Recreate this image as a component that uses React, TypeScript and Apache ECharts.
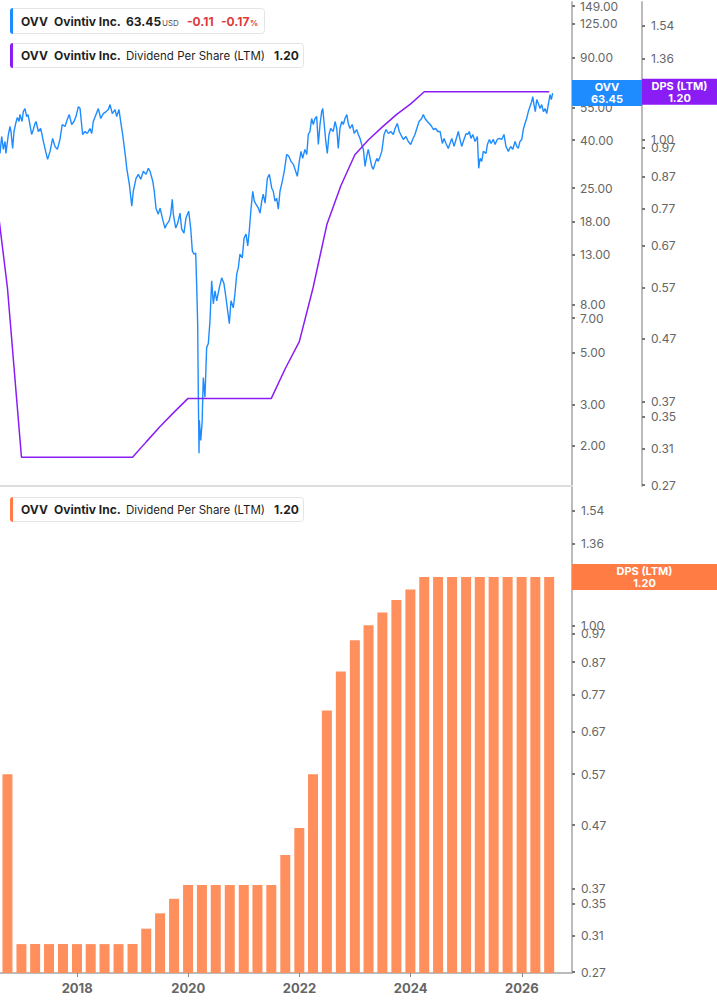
import React, { useEffect, useRef } from 'react';
import * as echarts from 'echarts';

// 股价（收盘价，按图读取）
const priceDates = [
  '2016-08-12', '2016-08-23', '2016-09-03', '2016-09-14', '2016-09-20', '2016-10-06', '2016-10-17', '2016-10-23',
  '2016-11-03', '2016-11-12', '2016-11-23', '2016-12-04', '2016-12-15', '2016-12-21',
  '2017-01-04', '2017-01-12', '2017-01-23', '2017-02-03', '2017-02-12', '2017-02-21', '2017-03-08', '2017-03-19',
  '2017-03-30', '2017-04-06', '2017-04-21', '2017-05-06', '2017-05-15', '2017-05-24', '2017-06-08', '2017-06-21',
  '2017-07-07', '2017-07-24', '2017-08-08', '2017-08-24', '2017-09-10', '2017-09-25', '2017-10-13', '2017-10-28',
  '2017-11-10', '2017-11-26', '2017-12-11', '2017-12-24',
  '2018-01-09', '2018-01-20', '2018-02-06', '2018-02-22', '2018-03-09', '2018-03-26', '2018-04-07', '2018-04-17',
  '2018-05-05', '2018-05-20', '2018-06-05', '2018-06-22', '2018-07-10', '2018-07-25', '2018-08-05', '2018-08-20',
  '2018-09-07', '2018-09-18', '2018-10-03', '2018-10-14', '2018-10-27', '2018-11-12', '2018-11-23', '2018-12-10',
  '2018-12-26',
  '2019-01-05', '2019-01-23', '2019-02-07', '2019-02-23', '2019-03-12', '2019-03-30', '2019-04-14', '2019-04-25',
  '2019-05-13', '2019-05-23', '2019-06-03', '2019-06-18', '2019-06-30', '2019-07-15', '2019-08-01', '2019-08-13',
  '2019-08-28', '2019-09-08', '2019-09-18', '2019-09-25', '2019-10-11', '2019-10-24', '2019-11-08', '2019-11-19',
  '2019-12-04', '2019-12-17',
  '2020-01-04', '2020-01-17', '2020-01-28', '2020-02-08', '2020-02-19', '2020-02-26', '2020-03-03', '2020-03-07',
  '2020-03-12', '2020-03-14', '2020-03-23', '2020-04-01', '2020-04-09', '2020-04-20', '2020-05-01', '2020-05-12',
  '2020-05-23', '2020-06-03', '2020-06-14', '2020-06-25', '2020-07-06', '2020-07-23', '2020-08-08', '2020-08-23',
  '2020-09-05', '2020-09-16', '2020-09-27', '2020-10-08', '2020-10-23', '2020-11-03', '2020-11-15', '2020-11-25',
  '2020-12-06', '2020-12-21',
  '2021-01-02', '2021-01-15', '2021-01-26', '2021-02-05', '2021-02-17', '2021-02-28', '2021-03-10', '2021-03-21',
  '2021-04-06', '2021-04-17', '2021-04-28', '2021-05-08', '2021-05-20', '2021-06-04', '2021-06-17', '2021-07-03',
  '2021-07-13', '2021-07-24', '2021-08-04', '2021-08-15', '2021-08-26', '2021-09-10', '2021-09-23', '2021-10-09',
  '2021-10-24', '2021-11-06', '2021-11-22', '2021-12-07', '2021-12-18', '2021-12-31',
  '2022-01-11', '2022-01-22', '2022-02-06', '2022-02-18', '2022-02-28', '2022-03-11', '2022-03-22', '2022-04-02',
  '2022-04-13', '2022-04-24', '2022-05-05', '2022-05-16', '2022-05-27', '2022-06-03', '2022-06-11', '2022-06-23',
  '2022-07-03', '2022-07-14', '2022-07-25', '2022-08-11', '2022-08-23', '2022-09-03', '2022-09-13', '2022-09-24',
  '2022-10-06', '2022-10-16', '2022-10-27', '2022-11-08', '2022-11-18', '2022-11-29', '2022-12-14', '2022-12-27',
  '2023-01-12', '2023-01-23', '2023-02-03', '2023-02-14', '2023-02-25', '2023-03-08', '2023-03-19', '2023-03-29',
  '2023-04-10', '2023-04-21', '2023-05-01', '2023-05-13', '2023-05-24', '2023-06-03', '2023-06-15', '2023-06-26',
  '2023-07-11', '2023-07-24', '2023-08-08', '2023-08-24', '2023-09-10', '2023-09-21', '2023-10-06', '2023-10-19',
  '2023-11-04', '2023-11-15', '2023-12-02', '2023-12-17',
  '2024-01-02', '2024-01-15', '2024-01-30', '2024-02-11', '2024-02-26', '2024-03-14', '2024-03-25', '2024-04-05',
  '2024-04-20', '2024-05-03', '2024-05-19', '2024-05-30', '2024-06-14', '2024-06-28', '2024-07-13', '2024-07-28',
  '2024-08-08', '2024-08-21', '2024-09-05', '2024-09-16', '2024-09-28', '2024-10-13', '2024-10-26', '2024-11-10',
  '2024-11-21', '2024-12-02', '2024-12-17', '2024-12-31',
  '2025-01-11', '2025-01-21', '2025-02-01', '2025-02-13', '2025-02-28', '2025-03-15', '2025-03-24', '2025-04-02',
  '2025-04-13', '2025-04-23', '2025-05-11', '2025-05-20', '2025-06-02', '2025-06-13', '2025-06-28', '2025-07-09',
  '2025-07-24', '2025-08-06', '2025-08-22', '2025-09-06', '2025-09-19', '2025-10-05', '2025-10-20', '2025-11-02',
  '2025-11-18', '2025-11-29', '2025-12-09', '2025-12-20',
  '2026-01-01', '2026-01-11', '2026-01-22', '2026-02-02', '2026-02-13', '2026-02-24', '2026-03-07', '2026-03-14',
  '2026-03-22', '2026-03-31', '2026-04-09', '2026-04-20', '2026-05-01', '2026-05-12', '2026-05-23', '2026-06-03',
  '2026-06-14', '2026-06-24', '2026-07-06', '2026-07-14', '2026-07-23',
];
const priceValues = [
  35.15, 41.49, 36.54, 39.51, 35.15, 42.31, 45.74, 43.56, 36.9, 43.56, 47.1, 49.94, 48.03, 51.43,
  48.03, 52.95, 54.53, 50.43, 51.43, 48.03, 42.31, 44.42, 47.1, 48.03, 43.56, 44.86, 42.31, 39.51, 35.84, 33.15,
  35.84, 40.69, 37.63, 36.54, 40.29, 46.64, 45.74, 48.98, 51.43, 46.64, 48.03, 50.43,
  55.6, 54.53, 42.31, 43.56, 42.72, 44.86, 42.72, 48.03, 51.43, 54.53, 49.46, 51.93, 52.95, 53.99, 56.7, 51.93,
  53.99, 50.43, 53.99, 48.03, 42.31, 35.15, 30.36, 25.97, 20.95,
  24.25, 27.54, 28.63, 27.27, 29.48, 28.63, 30.36, 29.48, 26.74, 24.25, 20.55, 19.38, 20.55, 18.64, 16.9, 17.58,
  18.1, 19.38, 22.43, 19.38, 16.9, 17.75, 19.57, 16.74, 16.1, 18.64,
  19.95, 16.9, 13.5, 13.11, 13.24, 9.41, 6.62, 3.44, 1.86, 2.57, 2.11, 2.5, 3.91, 3.22, 5.24, 5.45,
  6.82, 10.08, 8.05, 9.14, 8.29, 9.41, 10.38, 9.79, 8.54, 7.52, 6.62, 8.29, 7.74, 8.88, 10.79, 11.44,
  13.11, 12.61,
  15.33, 15.95, 14.18, 16.42, 20.55, 24.25, 22.0, 21.36, 20.55, 19.57, 22.0, 23.55, 21.57, 27.54, 28.63, 24.97,
  24.25, 22.0, 22.65, 20.35, 24.25, 26.74, 29.48, 34.8, 34.13, 32.51, 31.57, 29.48, 28.08, 32.51,
  35.84, 33.47, 36.54, 34.8, 42.31, 43.56, 49.46, 46.64, 49.46, 50.43, 38.37, 46.64, 52.95, 54.53, 48.03, 39.51,
  35.15, 42.31, 44.86, 43.56, 48.03, 44.86, 36.9, 44.86, 48.03, 46.64, 49.46, 51.43, 47.1, 44.86, 46.64, 42.72,
  44.42, 42.31, 40.69, 38.37, 36.54, 30.96, 34.13, 36.54, 33.47, 30.96, 30.07, 31.88, 33.47, 32.51, 34.13, 35.84,
  42.31, 44.42, 42.72, 43.56, 42.31, 44.86, 47.1, 43.56, 41.49, 40.29, 41.49, 39.51,
  38.37, 40.29, 42.31, 44.86, 48.03, 49.46, 51.43, 49.46, 48.03, 47.1, 45.74, 44.42, 44.86, 43.56, 43.56, 38.75,
  40.69, 38.75, 36.9, 38.75, 40.69, 37.63, 40.29, 43.56, 40.29, 37.63, 40.29, 42.72,
  42.31, 43.56, 40.69, 42.31, 39.51, 41.49, 30.36, 33.47, 32.51, 35.84, 35.15, 38.37, 40.29, 38.75, 40.29, 38.37,
  40.29, 40.69, 40.29, 42.31, 37.63, 35.84, 37.63, 36.54, 39.51, 37.63, 36.9, 39.51,
  40.29, 44.42, 47.1, 49.46, 52.95, 55.6, 58.38, 61.3, 56.7, 52.95, 59.53, 57.26, 54.53, 56.7, 52.95, 54.53,
  51.93, 56.7, 62.51, 59.53, 63.45,
];

// 每股股息 LTM（季度）
const dpsDates = [
  '2016-06-30', '2016-09-30', '2016-12-31', '2017-03-31', '2017-06-30', '2017-09-30', '2017-12-31',
  '2018-03-31', '2018-06-30', '2018-09-30', '2018-12-31', '2019-03-31', '2019-06-30', '2019-09-30',
  '2019-12-31', '2020-03-31', '2020-06-30', '2020-09-30', '2020-12-31', '2021-03-31', '2021-06-30',
  '2021-09-30', '2021-12-31', '2022-03-31', '2022-06-30', '2022-09-30', '2022-12-31', '2023-03-31',
  '2023-06-30', '2023-09-30', '2023-12-31', '2024-03-31', '2024-06-30', '2024-09-30', '2024-12-31',
  '2025-03-31', '2025-06-30', '2025-09-30', '2025-12-31', '2026-03-31', '2026-06-30',
];
const dpsValues = [
  0.88, 0.57, 0.3, 0.3, 0.3, 0.3, 0.3,
  0.3, 0.3, 0.3, 0.3, 0.318, 0.337, 0.356,
  0.375, 0.375, 0.375, 0.375, 0.375, 0.375, 0.375,
  0.42, 0.465, 0.57, 0.725, 0.84, 0.945, 1.0,
  1.05, 1.1, 1.145, 1.2, 1.2, 1.2, 1.2,
  1.2, 1.2, 1.2, 1.2, 1.2, 1.2,
];

// 刻度
const priceTicks = [2, 3, 5, 7, 8, 13, 18, 25, 40, 55, 90, 125, 149];
const dpsTicks = [0.27, 0.31, 0.35, 0.37, 0.47, 0.57, 0.67, 0.77, 0.87, 0.97, 1.0, 1.18, 1.36, 1.54];
const yearTicks = ['2018-01-01', '2020-01-01', '2022-01-01', '2024-01-01', '2026-01-01'];

const lastPrice = 63.45;
const lastDps = 1.2;

// 对数坐标范围
const PRICE_MIN = 1.35;
const PRICE_MAX = 154.9;
const DPS_MIN = 0.269;
const DPS_MAX = 1.686;
const X_MIN = '2016-08-12';
const X_MAX = '2026-11-27';

const FONT = 'Inter, "Noto Sans", sans-serif';

const ts = (s: string) => {
  const [y, m, d] = s.split('-').map(Number);
  return new Date(y, m - 1, d).getTime();
};
const lnP = (v: number) => Math.log(v / PRICE_MIN);
const lnD = (v: number) => Math.log(v / DPS_MIN);

const App: React.FC = () => {
  const chartRef = useRef<HTMLDivElement>(null);

  useEffect(() => {
    document.body.style.margin = '0';
    if (!chartRef.current) return;
    const chart = echarts.init(chartRef.current, undefined, { renderer: 'svg' });

    const axisLabelBase = { color: '#666', fontSize: 12, fontFamily: FONT, margin: 8 };
    const tickBase = { show: true, length: 3, lineStyle: { color: '#777', width: 2 } };
    const lineBase = { show: true, lineStyle: { color: '#bbbbbb', width: 2 } };

    const dpsAxis = (gridIndex: number, offset: number) => ({
      type: 'value',
      gridIndex,
      position: 'right',
      offset,
      min: 0,
      max: lnD(DPS_MAX),
      axisLine: lineBase,
      axisTick: { ...tickBase, customValues: dpsTicks.map(lnD) },
      axisLabel: {
        ...axisLabelBase,
        margin: 9,
        customValues: dpsTicks.map(lnD),
        formatter: (v: number) => (DPS_MIN * Math.exp(v)).toFixed(2),
      },
      splitLine: { show: false },
    });

    const dpsData = dpsDates.map((d, i) => [ts(d), lnD(dpsValues[i])]);

    chart.setOption({
      animation: false,
      grid: [
        { left: 0, right: 145, top: 0, height: 486 },
        { left: 0, right: 145, top: 487, height: 486 },
      ],
      xAxis: [
        {
          type: 'value',
          gridIndex: 0,
          min: ts(X_MIN),
          max: ts(X_MAX),
          axisLine: { show: true, lineStyle: { color: '#dddddd', width: 2 } },
          axisTick: { show: false },
          axisLabel: { show: false },
          splitLine: { show: false },
        },
        {
          type: 'value',
          gridIndex: 1,
          min: ts(X_MIN),
          max: ts(X_MAX),
          axisLine: lineBase,
          axisTick: { show: true, length: 4, customValues: yearTicks.map(ts), lineStyle: { color: '#888', width: 1 } },
          axisLabel: {
            customValues: yearTicks.map(ts),
            formatter: (v: number) => String(new Date(v).getFullYear()),
            color: '#666',
            fontSize: 13,
            fontWeight: 'bold',
            fontFamily: FONT,
            margin: 8,
          },
          splitLine: { show: false },
        },
      ],
      yAxis: [
        {
          type: 'value',
          gridIndex: 0,
          position: 'right',
          min: 0,
          max: lnP(PRICE_MAX),
          axisLine: lineBase,
          axisTick: { ...tickBase, customValues: priceTicks.map(lnP) },
          axisLabel: {
            ...axisLabelBase,
            customValues: priceTicks.map(lnP),
            formatter: (v: number) => (PRICE_MIN * Math.exp(v)).toFixed(2),
          },
          splitLine: { show: false },
        },
        dpsAxis(0, 70),
        dpsAxis(1, 0),
      ],
      series: [
        {
          name: 'OVV',
          type: 'line',
          xAxisIndex: 0,
          yAxisIndex: 0,
          data: priceDates.map((d, i) => [ts(d), lnP(priceValues[i])]),
          showSymbol: false,
          lineStyle: { color: '#1e8cff', width: 1.4 },
          itemStyle: { color: '#1e8cff' },
        },
        {
          name: 'DPS line',
          type: 'line',
          xAxisIndex: 0,
          yAxisIndex: 1,
          data: dpsData,
          showSymbol: false,
          lineStyle: { color: '#8a1cf6', width: 1.5 },
          itemStyle: { color: '#8a1cf6' },
        },
        {
          name: 'DPS bar',
          type: 'bar',
          xAxisIndex: 1,
          yAxisIndex: 2,
          data: dpsData,
          barWidth: 10,
          itemStyle: { color: '#ff8f5c' },
        },
      ],
    });

    // 轴上的当前值标签
    const yPrice = chart.convertToPixel({ yAxisIndex: 0 }, lnP(lastPrice)) as number;
    const yDpsTop = chart.convertToPixel({ yAxisIndex: 1 }, lnD(lastDps)) as number;
    const yDpsBottom = chart.convertToPixel({ yAxisIndex: 2 }, lnD(lastDps)) as number;

    const valueBox = (x: number, w: number, y: number, color: string, text: string) => [
      { type: 'rect', shape: { x, y: y - 13, width: w, height: 26 }, style: { fill: color }, z: 100 },
      {
        type: 'text',
        x: x + w / 2,
        y,
        style: {
          text,
          align: 'center',
          verticalAlign: 'middle',
          fill: '#fff',
          fontSize: 11,
          fontWeight: 'bold',
          lineHeight: 12,
          fontFamily: FONT,
        },
        z: 101,
      },
    ];

    const legendBox = (x: number, y: number, w: number, h: number, color: string) => [
      {
        type: 'rect',
        shape: { x: x + 0.5, y: y + 0.5, width: w, height: h, r: 3 },
        style: { fill: '#ffffff', stroke: '#e4e4e4', lineWidth: 1 },
        z: 100,
      },
      { type: 'rect', shape: { x, y, width: 3, height: h + 1, r: [3, 0, 0, 3] }, style: { fill: color }, z: 101 },
    ];

    const txt = (x: number, y: number, text: string, extra: any = {}) => ({
      type: 'text',
      x,
      y,
      style: {
        text,
        fontFamily: FONT,
        fontSize: 12,
        fontWeight: 'bold',
        fill: '#1f1f1f',
        verticalAlign: 'middle',
        align: 'left',
        ...extra,
      },
      z: 102,
    });

    const red = '#e03b3b';
    const desc = { fontWeight: 'normal', fontSize: 11.5 };

    chart.setOption({
      graphic: [
        ...valueBox(572, 70, yPrice, '#1e8cff', 'OVV\n' + lastPrice.toFixed(2)),
        ...valueBox(642, 75, yDpsTop, '#8a1cf6', 'DPS (LTM)\n' + lastDps.toFixed(2)),
        ...valueBox(572, 145, yDpsBottom, '#ff7c45', 'DPS (LTM)\n' + lastDps.toFixed(2)),

        ...legendBox(10, 8, 254, 25, '#1e8cff'),
        txt(21, 21, 'OVV'),
        txt(54, 21, 'Ovintiv Inc.'),
        txt(126, 21, lastPrice.toFixed(2)),
        txt(162, 23, 'USD', { fontSize: 8, fontWeight: 'normal', fill: '#555' }),
        txt(187, 21, '-0.11', { fill: red }),
        txt(221, 21, '-0.17', { fill: red }),
        txt(250, 23, '%', { fontSize: 8, fill: red }),

        ...legendBox(10, 43, 293, 24, '#8a1cf6'),
        txt(21, 55.5, 'OVV'),
        txt(54, 55.5, 'Ovintiv Inc.'),
        txt(126, 55.5, 'Dividend Per Share (LTM)', desc),
        txt(274, 55.5, lastDps.toFixed(2)),

        ...legendBox(10, 497, 293, 24, '#ff7c45'),
        txt(21, 509.5, 'OVV'),
        txt(54, 509.5, 'Ovintiv Inc.'),
        txt(126, 509.5, 'Dividend Per Share (LTM)', desc),
        txt(274, 509.5, lastDps.toFixed(2)),
      ],
    });

    return () => {
      chart.dispose();
    };
  }, []);

  return <div ref={chartRef} style={{ width: '717px', height: '1005px' }}></div>;
};

export default App;
